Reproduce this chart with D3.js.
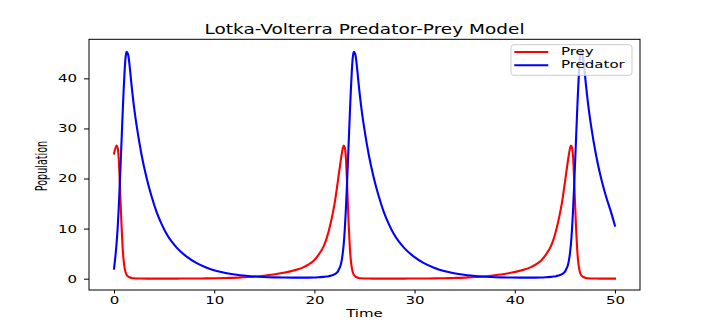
<!DOCTYPE html>
<html><head><meta charset="utf-8">
<script src="https://cdn.jsdelivr.net/npm/d3@7"></script>
<style>html,body{margin:0;padding:0;background:#fff;} svg{display:block;}</style>
</head><body><svg id="chart" width="710" height="327"></svg>
<script>
const time = [
  0, 0.25, 0.35, 0.45, 0.55, 0.65, 0.75, 0.85, 0.95, 1.05, 1.15, 1.25, 1.4, 1.55, 1.75, 2.0, 2.25, 2.75, 3.25, 3.75, 4.25, 4.75, 5.25, 6.25, 7.25, 8.25, 9.25, 10.25, 11.25, 12.25,
  12.93, 13.93, 14.93, 15.93, 16.93, 17.93, 18.93, 19.43, 19.93, 20.43, 20.93, 21.18, 21.43, 21.68, 21.93, 22.03, 22.13, 22.23, 22.33, 22.43, 22.53, 22.63, 22.73, 22.83, 22.93, 23.03, 23.13, 23.23, 23.33, 23.43, 23.53, 23.63, 23.73, 23.83, 23.93, 24.08, 24.23, 24.43, 24.68, 24.93, 25.43, 25.93, 26.43, 26.93, 27.43, 27.93, 28.93, 29.93, 30.93, 31.93, 32.93, 33.93, 34.93,
  35.61, 36.61, 37.61, 38.61, 39.61, 40.61, 41.61, 42.11, 42.61, 43.11, 43.61, 43.86, 44.11, 44.36, 44.61, 44.71, 44.81, 44.91, 45.01, 45.11, 45.21, 45.31, 45.41, 45.51, 45.61, 45.71, 45.81, 45.91, 46.01, 46.11, 46.21, 46.31, 46.41, 46.51, 46.61, 46.76, 46.91, 47.11, 47.36, 47.61, 48.11, 48.61, 49.11, 49.61, 50
];
const prey = [
  25.0, 26.6, 26.2, 24.5, 20.5, 15.5, 10.5, 6.5, 3.8, 2.2, 1.3, 0.8, 0.45, 0.28, 0.15, 0.08, 0.05, 0.03, 0.02, 0.02, 0.02, 0.02, 0.02, 0.02, 0.03, 0.04, 0.06, 0.09, 0.14, 0.21,
  0.3, 0.42, 0.6, 0.84, 1.17, 1.63, 2.3, 2.85, 3.6, 4.8, 6.5, 7.8, 9.5, 11.6, 14.1, 15.2, 16.5, 17.9, 19.3, 20.8, 22.2, 23.6, 24.9, 26.0, 26.6, 26.2, 24.5, 20.5, 15.5, 10.5, 6.5, 3.8, 2.2, 1.3, 0.8, 0.45, 0.28, 0.15, 0.08, 0.05, 0.03, 0.02, 0.02, 0.02, 0.02, 0.02, 0.02, 0.03, 0.04, 0.06, 0.09, 0.14, 0.21,
  0.3, 0.42, 0.6, 0.84, 1.17, 1.63, 2.3, 2.85, 3.6, 4.8, 6.5, 7.8, 9.5, 11.6, 14.1, 15.2, 16.5, 17.9, 19.3, 20.8, 22.2, 23.6, 24.9, 26.0, 26.6, 26.2, 24.5, 20.5, 15.5, 10.5, 6.5, 3.8, 2.2, 1.3, 0.8, 0.45, 0.28, 0.15, 0.08, 0.05, 0.03, 0.02, 0.02, 0.02, 0.02
];
const predator = [
  2.0, 7.0, 9.8, 13.4, 17.8, 22.6, 27.6, 32.6, 37.3, 41.3, 44.2, 45.3, 44.8, 42.6, 38.6, 34.2, 30.6, 24.7, 20.1, 16.4, 13.3, 10.9, 8.9, 6.2, 4.4, 3.1, 2.2, 1.55, 1.1, 0.78,
  0.62, 0.45, 0.34, 0.27, 0.23, 0.21, 0.21, 0.22, 0.25, 0.3, 0.36, 0.42, 0.5, 0.63, 0.8, 0.9, 1.02, 1.17, 1.42, 1.8, 2.2, 2.8, 3.7, 5.1, 7.0, 9.8, 13.4, 17.8, 22.6, 27.6, 32.6, 37.3, 41.3, 44.2, 45.3, 44.8, 42.6, 38.6, 34.2, 30.6, 24.7, 20.1, 16.4, 13.3, 10.9, 8.9, 6.2, 4.4, 3.1, 2.2, 1.55, 1.1, 0.78,
  0.62, 0.45, 0.34, 0.27, 0.23, 0.21, 0.21, 0.22, 0.25, 0.3, 0.36, 0.42, 0.5, 0.63, 0.8, 0.9, 1.02, 1.17, 1.42, 1.8, 2.2, 2.8, 3.7, 5.1, 7.0, 9.8, 13.4, 17.8, 22.6, 27.6, 32.6, 37.3, 41.3, 44.2, 45.3, 44.8, 42.6, 38.6, 34.2, 30.6, 24.7, 20.1, 16.4, 13.3, 10.6
];
const xTicks = [0, 10, 20, 30, 40, 50];
const yTicks = [0, 10, 20, 30, 40];
const seriesNames = ["Prey", "Predator"];
const seriesColors = ["#ff0000", "#0000ff"];
const titleText = "Lotka-Volterra Predator-Prey Model";
const xLabel = "Time";
const yLabel = "Population";

const FONT = '"DejaVu Sans", sans-serif';
const SQ = 0.64;   // vertical squish of text
const TSQ = 0.72;  // title squish
const svg = d3.select('#chart');
const L = 89, R = 640, T = 39.3, B = 290;
const x = d3.scaleLinear().domain([-2.5, 52.5]).range([L, R]);
const y = d3.scaleLinear().domain([-2.26, 47.8]).range([B, T]);

// series lines
const series = [prey, predator];
series.forEach((vals, k) => {
  const gen = d3.line().x((d, i) => x(time[i])).y(d => y(d)).curve(d3.curveMonotoneX);
  svg.append('path').attr('d', gen(vals)).attr('fill', 'none')
    .attr('stroke', seriesColors[k]).attr('stroke-width', 2.1)
    .attr('stroke-linejoin', 'round').attr('stroke-linecap', 'square');
});

// x axis
const gx = svg.append('g').attr('transform', `translate(0,${B})`)
  .call(d3.axisBottom(x).tickValues(xTicks).tickSize(3.5).tickSizeOuter(0).tickFormat(d3.format('d')));
gx.attr('font-family', FONT).attr('font-size', 15);
gx.select('.domain').remove();
gx.selectAll('.tick line').attr('stroke', '#000').attr('stroke-width', 1);
gx.selectAll('.tick text').attr('y', 14 / SQ).attr('dy', null).attr('fill', '#000')
  .attr('transform', `scale(1,${SQ})`);

// y axis
const gy = svg.append('g').attr('transform', `translate(${L},0)`)
  .call(d3.axisLeft(y).tickValues(yTicks).tickSize(5).tickSizeOuter(0).tickFormat(d3.format('d')));
gy.attr('font-family', FONT).attr('font-size', 15);
gy.select('.domain').remove();
gy.selectAll('.tick line').attr('stroke', '#000').attr('stroke-width', 1);
gy.selectAll('.tick text').attr('x', -12).attr('dy', null).attr('fill', '#000')
  .attr('y', 3.4 / SQ).attr('transform', `scale(1,${SQ})`);

// frame
svg.append('rect').attr('x', L).attr('y', T).attr('width', R - L).attr('height', B - T)
  .attr('fill', 'none').attr('stroke', '#000').attr('stroke-width', 1);

// title
svg.append('text').attr('transform', `translate(${(L + R) / 2},33.5) scale(1,${TSQ})`)
  .attr('text-anchor', 'middle').attr('font-family', FONT).attr('font-size', 18.5).attr('fill', '#000')
  .text(titleText);
// axis labels
svg.append('text').attr('transform', `translate(${(L + R) / 2},317.3) scale(1,${SQ})`)
  .attr('text-anchor', 'middle').attr('font-family', FONT).attr('font-size', 15).attr('fill', '#000')
  .text(xLabel);
svg.append('text').attr('transform', `translate(47,166) scale(1,${SQ}) rotate(-90)`)
  .attr('text-anchor', 'middle').attr('font-family', FONT).attr('font-size', 15).attr('fill', '#000')
  .text(yLabel);

// legend
const lg = svg.append('g');
lg.append('rect').attr('x', 511).attr('y', 44.7).attr('width', 121).attr('height', 30.6).attr('rx', 3)
  .attr('fill', '#fff').attr('fill-opacity', 0.8).attr('stroke', '#cccccc').attr('stroke-width', 1);
const rowsY = [52, 65.3];
seriesNames.forEach((n, k) => {
  lg.append('line').attr('x1', 514.3).attr('x2', 548.3).attr('y1', rowsY[k]).attr('y2', rowsY[k])
    .attr('stroke', seriesColors[k]).attr('stroke-width', 2);
  lg.append('text').attr('transform', `translate(561,${rowsY[k] + 2.7}) scale(1,${SQ})`)
    .attr('font-family', FONT).attr('font-size', 15).attr('fill', '#000').text(n);
});
</script></body></html>
